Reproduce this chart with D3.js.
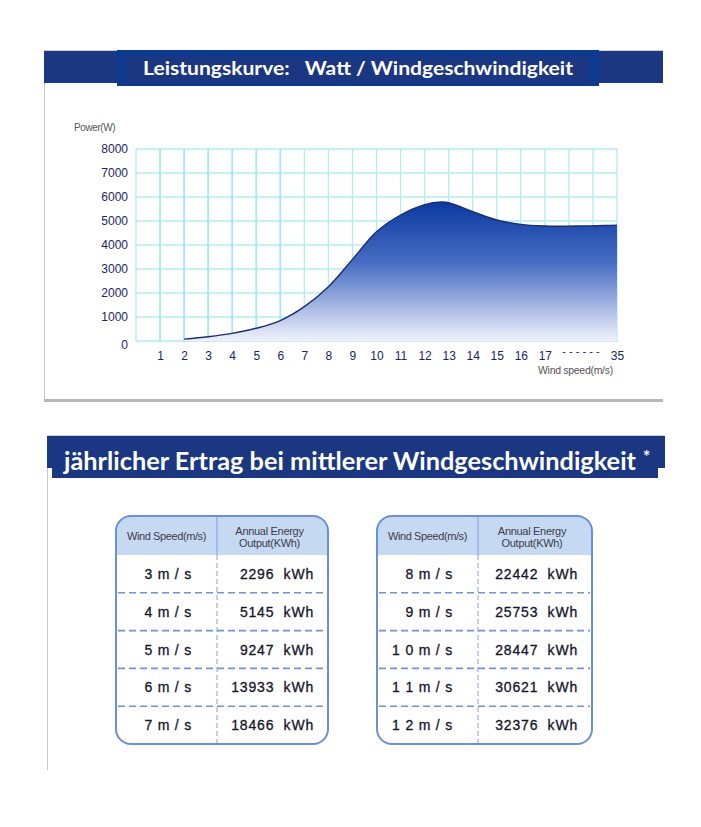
<!DOCTYPE html>
<html><head><meta charset="utf-8">
<script src="https://cdn.jsdelivr.net/npm/d3@7"></script>
<style>
html,body{margin:0;padding:0;background:#fff;}
svg{display:block;}
</style></head>
<body>
<script>
// ---- data ----
const chartTitle = "Leistungskurve:   Watt / Windgeschwindigkeit";
const tableTitle = "jährlicher Ertrag bei mittlerer Windgeschwindigkeit";
const yTicks = [0,1000,2000,3000,4000,5000,6000,7000,8000];
const xTicks = [1,2,3,4,5,6,7,8,9,10,11,12,13,14,15,16,17,35];
const curveSpeed = [2,3,4,5,6,7,8,9,10,11,12,12.7,13,14,15,16,17,20,26,32,35];
const curvePower = [80,180,320,530,850,1430,2260,3400,4550,5250,5680,5790,5760,5390,5040,4860,4790,4780,4790,4810,4830];
const leftSpeeds = [3,4,5,6,7];
const leftOutput = [2296,5145,9247,13933,18466];
const rightSpeeds = [8,9,10,11,12];
const rightOutput = [22442,25753,28447,30621,32376];

const W = 701, H = 827;
const svg = d3.select("body").append("svg").attr("width", W).attr("height", H);
const defs = svg.append("defs");

// ---- panel 1 ----
svg.append("rect").attr("x",44).attr("y",50).attr("width",619).attr("height",350).attr("fill","#fff");
svg.append("line").attr("x1",44.5).attr("x2",44.5).attr("y1",50).attr("y2",400).attr("stroke","#c6c6c6");
svg.append("line").attr("x1",44).attr("x2",663).attr("y1",50.5).attr("y2",50.5).attr("stroke","#d0d0d0");
svg.append("rect").attr("x",44).attr("y",399).attr("width",619).attr("height",3).attr("fill","#b8b8b8");
// header 1
svg.append("rect").attr("x",44).attr("y",51).attr("width",619).attr("height",32).attr("fill","#1b3782");
svg.append("rect").attr("x",117).attr("y",50).attr("width",482).attr("height",36).attr("fill","#0c3a8e");
svg.append("rect").attr("x",126).attr("y",56).attr("width",464).attr("height",27).attr("fill","#1b3782");
svg.append("text").attr("x",143).attr("y",75).attr("textLength",430).attr("lengthAdjust","spacingAndGlyphs")
  .attr("font-family","Lato, 'Open Sans', sans-serif").attr("font-weight","bold").attr("font-size",19)
  .attr("fill","#fff").attr("xml:space","preserve").style("white-space","pre").text(chartTitle);

// ---- chart ----
const step = 24.05, x0 = 136;
const x = d3.scaleLinear().domain([0,17,35]).range([x0, x0+17*step, x0+20*step]);
const y = d3.scaleLinear().domain([0,8000]).range([341,149]);
const g = svg.append("g");
const gridColor = "#b4e9f7";
g.selectAll("line.h").data(yTicks).join("line")
  .attr("x1",x0).attr("x2",x(35)).attr("y1",d=>y(d)).attr("y2",d=>y(d))
  .attr("stroke",gridColor).attr("stroke-width",1.3);
const gridPos = d3.range(0,21);
g.selectAll("line.v").data(gridPos).join("line")
  .attr("x1",d=>x0+d*step).attr("x2",d=>x0+d*step).attr("y1",y(8000)).attr("y2",y(0)+1)
  .attr("stroke",d=>(d>=1&&d<=6)?"#a6e6f8":gridColor).attr("stroke-width",d=>(d>=1&&d<=6)?1.8:1.3);

const grad = defs.append("linearGradient").attr("id","ag").attr("gradientUnits","userSpaceOnUse")
  .attr("x1",0).attr("x2",0).attr("y1",y(5800)).attr("y2",y(0));
grad.append("stop").attr("offset","0%").attr("stop-color","#0a39a0");
grad.append("stop").attr("offset","45%").attr("stop-color","#4a6fc4");
grad.append("stop").attr("offset","100%").attr("stop-color","#f0f2fb");
const pts = curveSpeed.map((s,i)=>[s,curvePower[i]]);
const cv = d3.curveCatmullRom.alpha(0.5);
const area = d3.area().x(d=>x(d[0])).y0(y(0)).y1(d=>y(d[1])).curve(cv);
const line = d3.line().x(d=>x(d[0])).y(d=>y(d[1])).curve(cv);
g.append("path").datum(pts).attr("d",area).attr("fill","url(#ag)");
g.append("path").datum(pts).attr("d",line).attr("fill","none").attr("stroke","#1a2c72").attr("stroke-width",1.4);

const yAxis = d3.axisLeft(y).tickValues(yTicks).tickSize(0).tickPadding(8).tickFormat(d3.format("d"));
const ya = svg.append("g").attr("transform",`translate(${x0},0)`).call(yAxis);
ya.select(".domain").remove();
ya.selectAll("text").attr("font-family","Arial, 'Liberation Sans', sans-serif").attr("font-size",12).attr("fill","#1c2462")
  .attr("dy",(d)=>d===0?"0.6em":"0.32em");
const xAxis = d3.axisBottom(x).tickValues(xTicks).tickSize(0).tickPadding(10).tickFormat(d3.format("d"));
const xa = svg.append("g").attr("transform",`translate(0,${y(0)})`).call(xAxis);
xa.select(".domain").remove();
xa.selectAll("text").attr("font-family","Arial, 'Liberation Sans', sans-serif").attr("font-size",12).attr("fill","#1c2462");
svg.append("text").attr("x",x(26)).attr("y",355).attr("text-anchor","middle")
  .attr("font-family","Arial, sans-serif").attr("font-size",11).attr("fill","#1c2462").text("- - - - - -");
svg.append("text").attr("x",74).attr("y",131).attr("font-family","Arial, sans-serif").attr("font-size",10)
  .attr("fill","#555").attr("letter-spacing",-0.4).text("Power(W)");
svg.append("text").attr("x",538).attr("y",374).attr("font-family","Arial, sans-serif").attr("font-size",10.5)
  .attr("fill","#555").attr("letter-spacing",-0.3).text("Wind speed(m/s)");

// ---- panel 2 ----
svg.append("line").attr("x1",47.5).attr("x2",47.5).attr("y1",436).attr("y2",770).attr("stroke","#c6c6c6");
svg.append("line").attr("x1",47).attr("x2",665).attr("y1",435.5).attr("y2",435.5).attr("stroke","#d0d0d0");
svg.append("rect").attr("x",47).attr("y",436).attr("width",618).attr("height",32).attr("fill","#1b3782");
svg.append("rect").attr("x",52).attr("y",446).attr("width",606).attr("height",32).attr("fill","#1b3782");
svg.append("text").attr("x",64).attr("y",470).attr("textLength",572).attr("lengthAdjust","spacingAndGlyphs")
  .attr("font-family","Lato, 'Open Sans', sans-serif").attr("font-weight","bold").attr("font-size",24)
  .attr("fill","#fff").text(tableTitle);
svg.append("text").attr("x",643).attr("y",463).attr("font-family","Lato, sans-serif").attr("font-weight","bold")
  .attr("font-size",17).attr("fill","#fff").text("*");

// ---- tables ----
function drawTable(left, width, divX, speeds, outputs){
  const top = 516, headH = 39, bottom = 744;
  const tg = svg.append("g");
  const cid = "clip"+left;
  defs.append("clipPath").attr("id",cid).append("rect").attr("x",left).attr("y",top).attr("width",width)
    .attr("height",bottom-top).attr("rx",15);
  tg.append("rect").attr("x",left).attr("y",top).attr("width",width).attr("height",bottom-top).attr("rx",15).attr("fill","#fff");
  tg.append("rect").attr("x",left).attr("y",top).attr("width",width).attr("height",headH).attr("fill","#c6d9f3")
    .attr("clip-path",`url(#${cid})`);
  const rowY = d3.scaleBand().domain(d3.range(speeds.length)).range([top+headH, bottom]);
  tg.selectAll("line.r").data(d3.range(1,speeds.length)).join("line")
    .attr("x1",left+2).attr("x2",left+width-2).attr("y1",i=>rowY(i)).attr("y2",i=>rowY(i))
    .attr("stroke","#6e93d6").attr("stroke-width",1.6).attr("stroke-dasharray","7,4");
  tg.append("line").attr("x1",divX).attr("x2",divX).attr("y1",top).attr("y2",top+headH)
    .attr("stroke","#7e9fdc").attr("stroke-width",1);
  tg.append("line").attr("x1",divX).attr("x2",divX).attr("y1",top+headH).attr("y2",bottom)
    .attr("stroke","#7e9fdc").attr("stroke-width",1).attr("stroke-dasharray","5,3");
  tg.append("rect").attr("x",left).attr("y",top).attr("width",width).attr("height",bottom-top).attr("rx",15)
    .attr("fill","none").attr("stroke","#6c8fd8").attr("stroke-width",2);
  const f = "Arial, 'Liberation Sans', sans-serif";
  tg.append("text").attr("x",(left+divX)/2).attr("y",540).attr("text-anchor","middle").attr("font-family",f)
    .attr("font-size",11).attr("fill","#3c3c48").attr("letter-spacing",-0.4).text("Wind Speed(m/s)");
  const c2 = (divX+left+width)/2 - 3;
  tg.append("text").attr("x",c2).attr("y",535).attr("text-anchor","middle").attr("font-family",f)
    .attr("font-size",11).attr("fill","#3c3c48").attr("letter-spacing",-0.3).text("Annual Energy");
  tg.append("text").attr("x",c2).attr("y",547).attr("text-anchor","middle").attr("font-family",f)
    .attr("font-size",11).attr("fill","#3c3c48").attr("letter-spacing",-0.3).text("Output(KWh)");
  tg.selectAll("text.s").data(speeds).join("text")
    .attr("x",divX-25).attr("y",(d,i)=>rowY(i)+rowY.bandwidth()/2+5).attr("text-anchor","end")
    .attr("font-family",f).attr("font-size",14).attr("letter-spacing",0.8).attr("fill","#15152a")
    .attr("stroke","#15152a").attr("stroke-width",0.3)
    .text(d=>String(d).split("").join(" ")+" m / s");
  tg.selectAll("text.o").data(outputs).join("text")
    .attr("x",left+width-14).attr("y",(d,i)=>rowY(i)+rowY.bandwidth()/2+5).attr("text-anchor","end")
    .attr("font-family",f).attr("font-size",14).attr("letter-spacing",0.8).attr("fill","#15152a")
    .attr("stroke","#15152a").attr("stroke-width",0.3)
    .attr("xml:space","preserve").style("white-space","pre")
    .text(d=>d+"  kWh");
}
drawTable(116, 212, 217, leftSpeeds, leftOutput);
drawTable(377, 215, 478, rightSpeeds, rightOutput);
</script>
</body></html>
